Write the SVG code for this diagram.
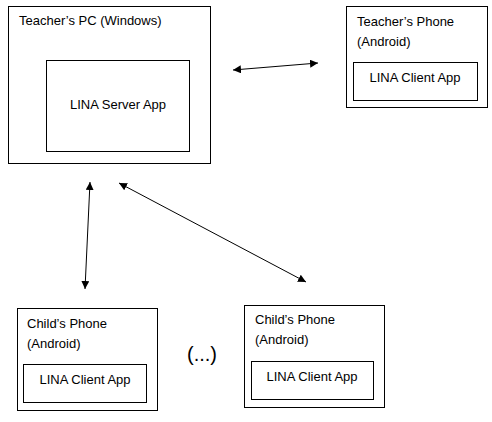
<svg xmlns="http://www.w3.org/2000/svg" width="492" height="422" viewBox="0 0 492 422">
<style>
.box{fill:#fff;stroke:#000;stroke-width:1}
.t{font-family:"Liberation Sans",Arial,sans-serif;font-size:13px;fill:#000}
.c{stroke:#000;stroke-width:1;fill:none;marker-start:url(#ah);marker-end:url(#ah)}
</style>
<defs>
<marker id="ah" viewBox="0 0 10 10" refX="10" refY="5" markerWidth="8" markerHeight="8" markerUnits="userSpaceOnUse" orient="auto-start-reverse">
<path d="M0,0 L10,5 L0,10 z" fill="#000"/>
</marker>
</defs>
<rect width="492" height="422" fill="#fff"/>
<g id="teacher-pc">
<rect class="box" x="8.5" y="6.5" width="202" height="157"/>
<text class="t" x="19" y="25">Teacher’s PC (Windows)</text>
<g id="lina-server">
<rect class="box" x="46.5" y="60.5" width="143" height="91"/>
<text class="t" x="118" y="109" text-anchor="middle">LINA Server App</text>
</g>
</g>
<g id="teacher-phone">
<rect class="box" x="346.5" y="6.5" width="141" height="101"/>
<text class="t" x="357" y="26">Teacher’s Phone</text>
<text class="t" x="357" y="46">(Android)</text>
<g id="teacher-client">
<rect class="box" x="353.5" y="62.5" width="124" height="38"/>
<text class="t" x="415" y="82" text-anchor="middle">LINA Client App</text>
</g>
</g>
<g id="child-phone-1">
<rect class="box" x="17.5" y="308.5" width="140" height="102"/>
<text class="t" x="27" y="328">Child’s Phone</text>
<text class="t" x="27" y="348">(Android)</text>
<g id="child-client-1">
<rect class="box" x="23.5" y="364.5" width="123" height="38"/>
<text class="t" x="85" y="384" text-anchor="middle">LINA Client App</text>
</g>
</g>
<text id="ellipsis" class="t" x="202" y="361" text-anchor="middle" style="font-size:20px">(...)</text>
<g id="child-phone-2">
<rect class="box" x="244.5" y="305.5" width="140" height="102"/>
<text class="t" x="255" y="324">Child’s Phone</text>
<text class="t" x="255" y="344">(Android)</text>
<g id="child-client-2">
<rect class="box" x="251.5" y="361.5" width="122" height="38"/>
<text class="t" x="312" y="381" text-anchor="middle">LINA Client App</text>
</g>
</g>
<g id="connectors">
<line class="c" x1="233" y1="70" x2="318" y2="63"/>
<line class="c" x1="90" y1="182" x2="85" y2="289"/>
<line class="c" x1="119" y1="183" x2="306" y2="282"/>
</g>
</svg>
